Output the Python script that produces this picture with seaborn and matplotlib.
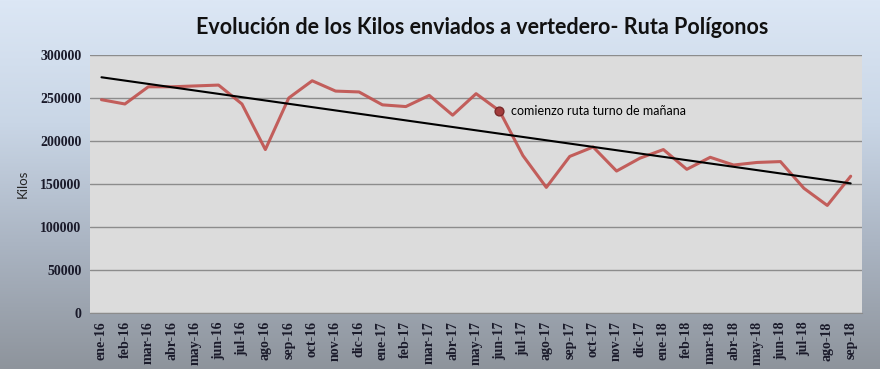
import numpy as np
import pandas as pd
import matplotlib
matplotlib.use("Agg")
import matplotlib.pyplot as plt
import seaborn as sns

# ==============================
# DATA
# ==============================
months = ["ene-16", "feb-16", "mar-16", "abr-16", "may-16", "jun-16", "jul-16", "ago-16",
          "sep-16", "oct-16", "nov-16", "dic-16", "ene-17", "feb-17", "mar-17", "abr-17",
          "may-17", "jun-17", "jul-17", "ago-17", "sep-17", "oct-17", "nov-17", "dic-17",
          "ene-18", "feb-18", "mar-18", "abr-18", "may-18", "jun-18", "jul-18", "ago-18",
          "sep-18"]
kilos = [248000, 243000, 263000, 263000, 264000, 265000, 243000, 190000,
         250000, 270000, 258000, 257000, 242000, 240000, 253000, 230000,
         255000, 235000, 183000, 146000, 182000, 193000, 165000, 180000,
         190000, 167000, 181000, 172000, 175000, 176000, 145000, 125000,
         159000]
yticks = [0, 50000, 100000, 150000, 200000, 250000, 300000]
note_month = "jun-17"
note_text = "comienzo ruta turno de mañana"
title = "Evolución de los Kilos enviados a vertedero- Ruta Polígonos"

df = pd.DataFrame({"mes": months, "kilos": kilos})
df["idx"] = np.arange(len(df))

sns.set_style("white")

fig = plt.figure(figsize=(8.8, 3.69), dpi=100)

# background gradient (light blue top -> grey bottom)
bg = fig.add_axes([0, 0, 1, 1], zorder=-10)
grad = np.linspace(0, 1, 256)[:, None]
cmap = matplotlib.colors.LinearSegmentedColormap.from_list(
    "bg", ["#dce7f5", "#c9d6e6", "#aab4c2", "#8e949c"])
bg.imshow(grad, aspect="auto", cmap=cmap, extent=[0, 1, 0, 1])
bg.axis("off")

ax = fig.add_axes([0.102, 0.152, 0.878, 0.699])
ax.set_facecolor("#dcdcdc")

# gridlines
for t in yticks:
    ax.axhline(t, color="#8c8c8c", lw=1.0, zorder=1)

sns.lineplot(data=df, x="idx", y="kilos", ax=ax, color="#c0504d", lw=2.2,
             alpha=0.9, zorder=3)

# linear trend (Excel style)
sns.regplot(data=df, x="idx", y="kilos", ax=ax, scatter=False, ci=None,
            line_kws={"color": "black", "lw": 1.5, "zorder": 4}, truncate=True)

# annotated point
ni = months.index(note_month)
ax.scatter([ni], [kilos[ni]], s=40, color="#a33c3c", edgecolor="#7a2a2a", zorder=5)
ax.text(ni + 0.5, kilos[ni], note_text, fontsize=9, va="center",
        family="Lato", color="black")

ax.set_xlim(-0.5, len(months) - 0.5)
ax.set_ylim(0, 300000)
ax.set_yticks(yticks)
ax.set_yticklabels([str(t) for t in yticks], fontsize=10, family="Liberation Serif",
                   fontweight="bold", color="#1a1a2a")
ax.set_xticks(df["idx"])
ax.set_xticklabels(months, rotation=90, fontsize=10, family="Liberation Serif",
                   fontweight="bold", color="#1a1a2a")
ax.tick_params(axis="both", length=0, pad=6)
ax.set_xlabel("")
ax.set_ylabel("Kilos", fontsize=9.5, labelpad=8, family="Lato")
for s in ax.spines.values():
    s.set_visible(False)
ax.spines["bottom"].set_visible(True)
ax.spines["bottom"].set_color("#8c8c8c")

fig.text(0.548, 0.925, title, ha="center", va="center", fontsize=15.5,
         fontweight="bold", family="Lato", color="#111111")

fig.savefig("out.png", dpi=100)
